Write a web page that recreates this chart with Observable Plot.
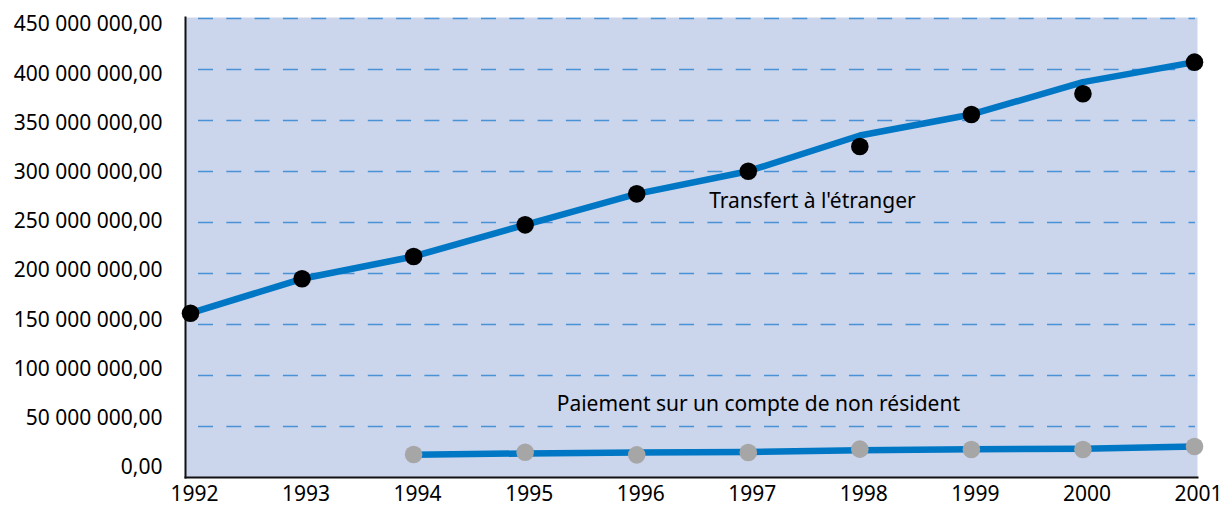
<!DOCTYPE html>
<html>
<head>
<meta charset="utf-8">
<script src="https://cdn.jsdelivr.net/npm/d3@7"></script>
<script src="https://cdn.jsdelivr.net/npm/@observablehq/plot@0.6"></script>
<style>
  html, body { margin: 0; padding: 0; background: #fff; }
  #chart { width: 1230px; height: 506px; }
</style>
</head>
<body>
<div id="chart"></div>
<script>
// ---- Data ----
const years = [1992, 1993, 1994, 1995, 1996, 1997, 1998, 1999, 2000, 2001];
// "Transfert à l'étranger": markers and the drawn line (line differs slightly from markers in 1998 and 2000)
const transfertPoints = [161.1e6, 194.8e6, 216.7e6, 247.7e6, 278.1e6, 300.3e6, 324.5e6, 355.9e6, 376.2e6, 407.2e6];
const transfertLine   = [161.1e6, 194.8e6, 216.7e6, 247.7e6, 278.1e6, 300.3e6, 335.3e6, 355.9e6, 387.6e6, 407.2e6];
// "Paiement sur un compte de non résident" (from 1994)
const paiementYears  = [1994, 1995, 1996, 1997, 1998, 1999, 2000, 2001];
const paiementPoints = [22.5e6, 24.8e6, 22.2e6, 24.5e6, 27.8e6, 27.5e6, 27.5e6, 30.4e6];
const paiementLine   = [22.2e6, 23.6e6, 24.5e6, 25.0e6, 26.8e6, 27.7e6, 28.2e6, 30.4e6];
// Axis ticks
const yTicks = [0, 50e6, 100e6, 150e6, 200e6, 250e6, 300e6, 350e6, 400e6, 450e6];
const xTicks = years;
// Series labels
const labelTransfert = "Transfert à l'étranger";
const labelPaiement = "Paiement sur un compte de non résident";

// ---- Tables built from the arrays ----
const transfertDots = years.map((y, i) => ({year: y, value: transfertPoints[i]}));
const transfertPath = years.map((y, i) => ({year: y, value: transfertLine[i]}));
const paiementDots = paiementYears.map((y, i) => ({year: y, value: paiementPoints[i]}));
const paiementPath = paiementYears.map((y, i) => ({year: y, value: paiementLine[i]}));

const fr = d3.formatLocale({decimal: ",", thousands: " ", grouping: [3], currency: ["", ""]});
const fmtY = fr.format(",.2f");
// the tick labels in the original sit on a slightly compressed ladder relative to the gridlines
const labelPos = v => 9.8e6 + 0.965 * v;

const chart = Plot.plot({
  width: 1230,
  height: 506,
  marginLeft: 185,
  marginRight: 33,
  marginTop: 18,
  marginBottom: 29,
  insetLeft: 5,
  insetRight: 3,
  x: {type: "linear", domain: [1992, 2001]},
  y: {domain: [0, 450e6], axis: null},
  style: {fontFamily: "'Noto Sans', 'Open Sans', sans-serif", fontSize: "21px", color: "#000", background: "#fff", overflow: "visible"},
  marks: [
    Plot.frame({fill: "#cbd5ec", stroke: null, insetTop: -1}),
    Plot.ruleY(yTicks.filter(v => v > 0), {stroke: "#4a92d6", strokeWidth: 1.3, strokeDasharray: "15,13.3", insetLeft: 13, insetRight: 2}),
    Plot.text(yTicks, {y: labelPos, text: fmtY, frameAnchor: "left", textAnchor: "end", dx: -23, fontSize: 21, fill: "#000"}),
    Plot.axisX({ticks: xTicks, tickFormat: d => String(d), tickSize: 0, tickPadding: 9, label: null, fontSize: 21, dx: 4, fill: "#000"}),
    Plot.frame({anchor: "left", stroke: "#111", strokeWidth: 2, insetTop: -1}),
    Plot.frame({anchor: "bottom", stroke: "#111", strokeWidth: 2}),
    Plot.line(transfertPath, {x: "year", y: "value", stroke: "#0077c4", strokeWidth: 6.5}),
    Plot.line(paiementPath, {x: "year", y: "value", stroke: "#0077c4", strokeWidth: 6.5}),
    Plot.dot(transfertDots, {x: "year", y: "value", r: 8.8, fill: "#000", stroke: null}),
    Plot.dot(paiementDots, {x: "year", y: "value", r: 8.8, fill: "#a6a6a6", stroke: null}),
    Plot.text([labelTransfert], {x: 1997.575, y: 270.6e6, text: d => d, fontSize: 21, fill: "#000", textAnchor: "middle"}),
    Plot.text([labelPaiement], {x: 1997.09, y: 71.6e6, text: d => d, fontSize: 21, fill: "#000", textAnchor: "middle"})
  ]
});
document.getElementById("chart").appendChild(chart);
</script>
</body>
</html>
